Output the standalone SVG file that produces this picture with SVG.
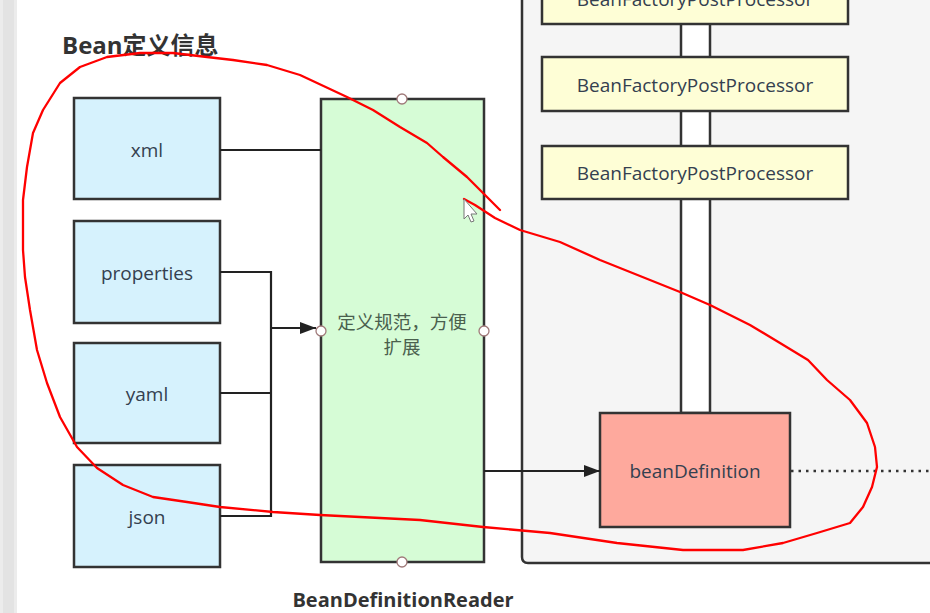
<svg xmlns="http://www.w3.org/2000/svg" width="930" height="613" viewBox="0 0 930 613">
<defs>
<style>
.box{stroke:#333;stroke-width:2.5}
.blue{fill:#d6f2fd}
.lbl{font-family:"Open Sans","Noto Sans","Noto Sans CJK SC",sans-serif;font-size:19px;fill:#34404f;text-anchor:middle}
.ttl{font-family:"Open Sans","Noto Sans","Noto Sans CJK SC",sans-serif;font-weight:bold;fill:#333}
.conn{stroke:#222;stroke-width:2.2;fill:none}
.handle{fill:#fff;stroke:#a07a7a;stroke-width:1.3}
</style>
<marker id="arrow" viewBox="0 0 16 12" refX="16" refY="6" markerWidth="16" markerHeight="12" markerUnits="userSpaceOnUse" orient="auto">
<path d="M0,0 L16,6 L0,12 z" fill="#222"/>
</marker>
</defs>
<rect width="930" height="613" fill="#fff"/>
<rect x="0" y="0" width="17" height="613" fill="#ececec"/>
<rect x="3" y="0" width="11" height="613" fill="#e3e3e3"/>

<text class="ttl" x="62" y="54" font-size="24">Bean定义信息</text>

<g id="container">
<path d="M522,-10 L522,557 Q522,563 528,563 L940,563 L940,-10 Z" fill="#f5f5f5" stroke="#333" stroke-width="2.5"/>
</g>

<g id="bar">
<rect x="681" y="20" width="29" height="393" fill="#fff" stroke="#333" stroke-width="2.5"/>
</g>

<g id="bfpp1">
<rect class="box" x="542" y="-12" width="306" height="36" fill="#fefed6"/>
<text class="lbl" x="695" y="6">BeanFactoryPostProcessor</text>
</g>
<g id="bfpp2">
<rect class="box" x="542" y="57" width="306" height="54" fill="#fefed6"/>
<text class="lbl" x="695" y="92">BeanFactoryPostProcessor</text>
</g>
<g id="bfpp3">
<rect class="box" x="542" y="146" width="306" height="53" fill="#fefed6"/>
<text class="lbl" x="695" y="180">BeanFactoryPostProcessor</text>
</g>

<g id="beanDefinition">
<rect class="box" x="600" y="413" width="190" height="114" fill="#fea99d"/>
<text class="lbl" x="695" y="478">beanDefinition</text>
</g>

<g id="xml">
<rect class="box blue" x="74" y="98" width="146" height="101"/>
<text class="lbl" x="147" y="157">xml</text>
</g>
<g id="properties">
<rect class="box blue" x="74" y="221" width="146" height="102"/>
<text class="lbl" x="147" y="280">properties</text>
</g>
<g id="yaml">
<rect class="box blue" x="74" y="343" width="146" height="100"/>
<text class="lbl" x="147" y="401">yaml</text>
</g>
<g id="json">
<rect class="box blue" x="74" y="465" width="146" height="102"/>
<text class="lbl" x="147" y="524">json</text>
</g>

<g id="reader">
<rect class="box" x="321" y="99" width="163" height="463" fill="#d6fcd6"/>
<text class="lbl" x="402" y="329" style="fill:#4a604e;font-size:18.5px">定义规范，方便</text>
<text class="lbl" x="402" y="354" style="fill:#4a604e;font-size:18.5px">扩展</text>
<circle class="handle" cx="402" cy="99" r="5"/>
<circle class="handle" cx="321" cy="331" r="5"/>
<circle class="handle" cx="484" cy="331" r="5"/>
<circle class="handle" cx="402" cy="562" r="5"/>
</g>
<text class="ttl" x="403" y="607" font-size="20" text-anchor="middle">BeanDefinitionReader</text>

<g id="connectors">
<path class="conn" d="M220,150 L321,150"/>
<path class="conn" d="M220,272 L271,272 L271,516 L220,516"/>
<path class="conn" d="M220,393 L271,393"/>
<path class="conn" d="M271,328 L316,328" marker-end="url(#arrow)"/>
<path class="conn" d="M484,471 L600,471" marker-end="url(#arrow)"/>
<path d="M791,471 L930,471" stroke="#333" stroke-width="2.5" stroke-dasharray="2.5,5" fill="none"/>
</g>

<path d="M464,199 L475,205 L495,218 L520,230 L560,242 L600,260 L645,278 L680,292 L710,305 L750,325 L780,343 L808,360 L827,380 L850,400 L867,423 L875,447 L877,467 L872,487 L863,507 L850,523 L817,533 L783,543 L743,550 L683,550 L617,543 L550,533 L483,527 L420,520 L320,515 L273,512 L220,507 L187,502 L153,497 L123,485 L97,468 L77,447 L60,417 L47,383 L37,350 L30,310 L25,277 L23,250 L23,200 L27,167 L33,133 L43,110 L60,83 L80,67 L107,57 L140,53 L173,53 L207,57 L233,60 L267,65 L300,75 L347,97 L373,110 L400,127 L427,143 L443,157 L467,177 L487,197 L500,210" fill="none" stroke="#f00" stroke-width="2.3" stroke-linejoin="round" stroke-linecap="round"/>

<path d="M464,199 L464,219 L468,215 L471,222 L474,221 L471,214 L477,214 Z" fill="#fff" stroke="#777" stroke-width="1"/>
</svg>
